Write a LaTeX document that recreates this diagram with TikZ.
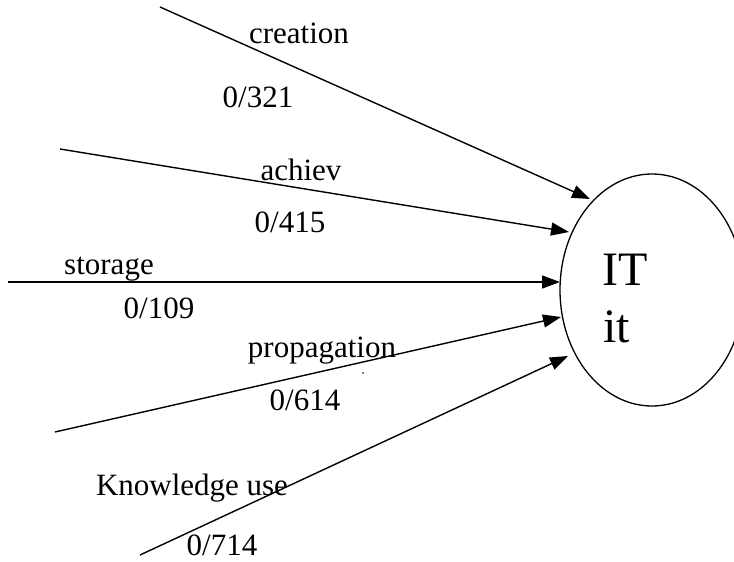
\documentclass[tikz,border=0pt]{standalone}
\usepackage{fontspec}
\setmainfont{Liberation Serif}
\usetikzlibrary{arrows.meta,shapes.geometric}
\begin{document}
\begin{tikzpicture}[x=1pt,y=-1pt,
  lbl/.style={inner sep=0pt,anchor=base,font=\fontsize{31}{36}\selectfont},
  big/.style={inner sep=0pt,anchor=base west,font=\fontsize{48}{56}\selectfont},
  arr/.style={line width=1.4pt,-{Triangle[length=18pt,width=13pt]}}]
\useasboundingbox (0,0) rectangle (734,562);
\clip (0,0) rectangle (734,562);
\coordinate (itnode) at (652,290);
\draw[line width=1.3pt] (itnode) ellipse [x radius=92pt, y radius=116pt];
\node[big] (IT) at (602,285) {IT};
\node[big] (itt) at (603,342) {it};
% start points and tips
\coordinate (s1) at (160,7);   \coordinate (t1) at (590,199);
\coordinate (s2) at (60,149);  \coordinate (t2) at (569,232);
\coordinate (s3) at (8,282);   \coordinate (t3) at (560,282);
\coordinate (s4) at (55,432);  \coordinate (t4) at (561,317);
\coordinate (s5) at (140,555); \coordinate (t5) at (568,356);
\draw[arr] (s1) -- (t1);
\draw[arr] (s2) -- (t2);
\draw[arr] (s3) -- (t3);
\draw[arr] (s4) -- (t4);
\draw[arr] (s5) -- (t5);
% labels
\node[lbl] (l1) at (299,43) {creation};
\node[lbl] (n1) at (258,107) {0/321};
\node[lbl] (l2) at (301,180) {achiev};
\node[lbl] (n2) at (290,232) {0/415};
\node[lbl] (l3) at (109,274) {storage};
\node[lbl] (n3) at (159,318) {0/109};
\node[lbl] (l4) at (322,357) {propagation};
\node[lbl] (n4) at (305,410) {0/614};
\node[lbl] (l5) at (192,495) {Knowledge use};
\node[lbl] (n5) at (222,555) {0/714};
\fill (363,373) circle (0.9pt);
\end{tikzpicture}
\end{document}
